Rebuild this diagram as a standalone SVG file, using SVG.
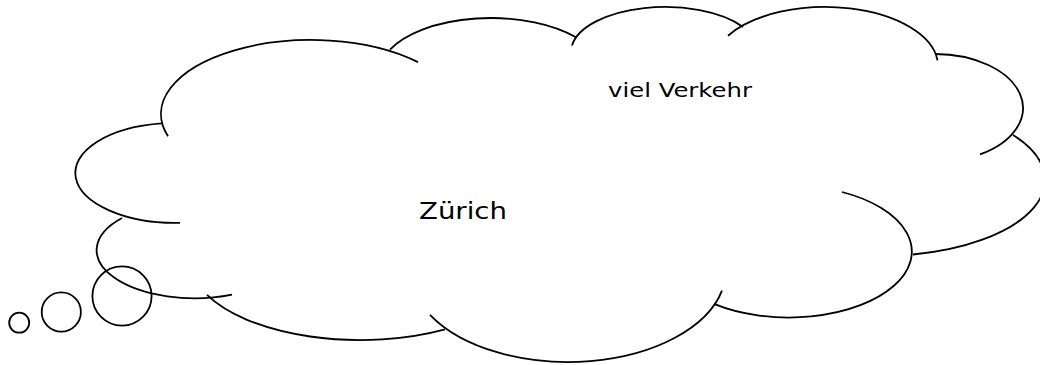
<svg xmlns="http://www.w3.org/2000/svg" width="1040" height="365" viewBox="0 0 1040 365">
  <style>
    .ln { fill: none; stroke: #000; stroke-width: 1.8; }
    .lbl { font-family: "DejaVu Sans", "Liberation Sans", sans-serif; fill: #000; }
  </style>
  <rect width="1040" height="365" fill="#fff"/>
  <g id="cloud">
    <path class="ln" d="M168,136.3 A150,74 0 0 1 418,62.1"/>
    <path class="ln" d="M390,49.6 A111,54 0 0 1 576,37.3"/>
    <path class="ln" d="M572,45.4 A94,45 0 0 1 743,26.9"/>
    <path class="ln" d="M728,35.7 A113,59 0 0 1 937.5,60.4"/>
    <path class="ln" d="M935,54 A88,54 0 0 1 980,154.4"/>
    <path class="ln" d="M1013,135 A165,76 0 0 1 913,254.5"/>
    <path class="ln" d="M842,192 A123,66 0 1 1 714,303.9"/>
    <path class="ln" d="M722,290.6 A158,92 0 0 1 430,314.8"/>
    <path class="ln" d="M445,329.3 A170,80 0 0 1 207,294.9"/>
    <path class="ln" d="M232,294.6 A98,48 0 0 1 122,218"/>
    <path class="ln" d="M180,222.9 A100,50 0 0 1 162,123.4"/>
  </g>
  <g id="bubbles">
    <circle class="ln" cx="122" cy="296" r="29.6"/>
    <circle class="ln" cx="61.3" cy="312" r="19.6"/>
    <circle class="ln" cx="19.2" cy="322.7" r="10"/>
  </g>
  <g id="label-zurich">
    <text class="lbl" x="419" y="219" font-size="23" textLength="88" lengthAdjust="spacingAndGlyphs">Zürich</text>
  </g>
  <g id="label-verkehr">
    <text class="lbl" x="608" y="97" font-size="19" textLength="144" lengthAdjust="spacingAndGlyphs">viel Verkehr</text>
  </g>
</svg>
